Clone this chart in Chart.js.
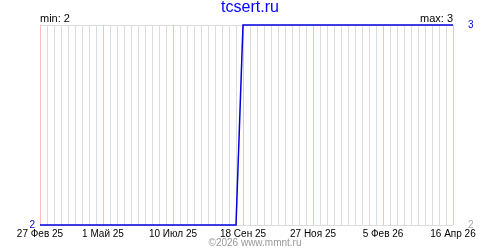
<!DOCTYPE html>
<html>
<head>
<meta charset="utf-8">
<script src="https://cdn.jsdelivr.net/npm/chart.js"></script>
<style>
    html, body { margin: 0; padding: 0; background: #fff; }
    #wrap { width: 500px; height: 250px; }
</style>
</head>
<body>
<div id="wrap"><canvas id="chart" width="500" height="250"></canvas></div>
<script>
// Chart data
const siteTitle = 'tcsert.ru';
const footerText = '©2026 www.mmnt.ru';
const pointDates = ['2025-02-27', '2025-09-11', '2025-09-18', '2026-04-16'];
const pointValues = [2, 2, 3, 3];
const tickDates = ['2025-02-27', '2025-05-01', '2025-07-10', '2025-09-18', '2025-11-27', '2026-02-05', '2026-04-16'];
const tickLabels = ['27 Фев 25', '1 Май 25', '10 Июл 25', '18 Сен 25', '27 Ноя 25', '5 Фев 26', '16 Апр 26'];
const yTicks = [2, 3];

const BLUE = '#0000dd';
const PINK = '#ffbcbc';
const GRAY = '#dcdcdc';
const FONT = 'Liberation Sans';

// days since the first date
function dayOf(s) {
    return Math.round((Date.parse(s + 'T00:00:00Z') - Date.parse(tickDates[0] + 'T00:00:00Z')) / 864e5);
}
const tickDays = tickDates.map(dayOf);
const lastDay = tickDays[tickDays.length - 1];
const minVal = Math.min(...pointValues);
const maxVal = Math.max(...pointValues);

// Header / footer text
const textPlugin = {
    id: 'texts',
    afterDraw(chart) {
        const ctx = chart.ctx;
        const area = chart.chartArea;
        ctx.save();
        ctx.textBaseline = 'middle';

        ctx.font = '16px "' + FONT + '"';
        ctx.fillStyle = '#0000ff';
        ctx.textAlign = 'center';
        ctx.fillText(siteTitle, 250, 8);

        ctx.font = '11px "' + FONT + '"';
        ctx.fillStyle = '#000';
        ctx.textAlign = 'left';
        ctx.fillText('min: ' + minVal, area.left, 19);
        ctx.textAlign = 'right';
        ctx.fillText('max: ' + maxVal, area.right, 19);

        ctx.font = '10px "' + FONT + '"';
        ctx.fillStyle = '#999';
        ctx.textAlign = 'center';
        ctx.fillText(footerText, 255, 243);
        ctx.restore();
    }
};

new Chart(document.getElementById('chart'), {
    type: 'line',
    data: {
        datasets: [{
            data: pointDates.map((d, i) => ({ x: dayOf(d), y: pointValues[i] })),
            borderColor: BLUE,
            borderWidth: 1.5,
            pointRadius: 0,
            tension: 0,
            clip: false
        }]
    },
    options: {
        responsive: false,
        animation: false,
        devicePixelRatio: 1,
        layout: { padding: { top: 25, left: 0, right: 0, bottom: 0 } },
        plugins: {
            legend: { display: false },
            tooltip: { enabled: false }
        },
        scales: {
            // weekly grid
            x: {
                type: 'linear',
                position: 'bottom',
                min: 0,
                max: lastDay,
                afterFit: s => { s.height = 0; },
                border: { display: false },
                grid: {
                    drawTicks: false,
                    z: -3,
                    color: c => tickDays.includes(Math.round(c.tick.value)) ? 'rgba(0,0,0,0)' : GRAY
                },
                ticks: { display: false, stepSize: 7, maxTicksLimit: 200, autoSkip: false }
            },
            // labelled dates
            xMajor: {
                type: 'linear',
                position: 'bottom',
                min: 0,
                max: lastDay,
                afterFit: s => { s.height = 25; },
                afterBuildTicks: s => { s.ticks = tickDays.map(v => ({ value: v })); },
                border: { display: false },
                grid: { drawTicks: false, z: -1, color: PINK },
                ticks: {
                    autoSkip: false,
                    maxRotation: 0,
                    padding: 3,
                    color: '#000',
                    font: { family: FONT, size: 10 },
                    callback: v => tickLabels[tickDays.indexOf(v)]
                }
            },
            y: {
                position: 'left',
                min: yTicks[0],
                max: yTicks[1],
                afterFit: s => { s.width = 40; },
                border: { display: false },
                grid: { drawTicks: false, z: -2, color: GRAY },
                ticks: {
                    stepSize: 1,
                    padding: 5,
                    color: BLUE,
                    font: { family: FONT, size: 10 },
                    callback: v => v === yTicks[0] ? String(v) : ''
                }
            },
            y2: {
                position: 'right',
                min: yTicks[0],
                max: yTicks[1],
                afterFit: s => { s.width = 47; },
                border: { display: false },
                grid: { display: false },
                ticks: {
                    stepSize: 1,
                    padding: 7,
                    font: { family: FONT, size: 10 },
                    color: c => c.tick.value === yTicks[1] ? BLUE : '#aaa',
                    callback: v => String(v)
                }
            }
        }
    },
    plugins: [textPlugin]
});
</script>
</body>
</html>
